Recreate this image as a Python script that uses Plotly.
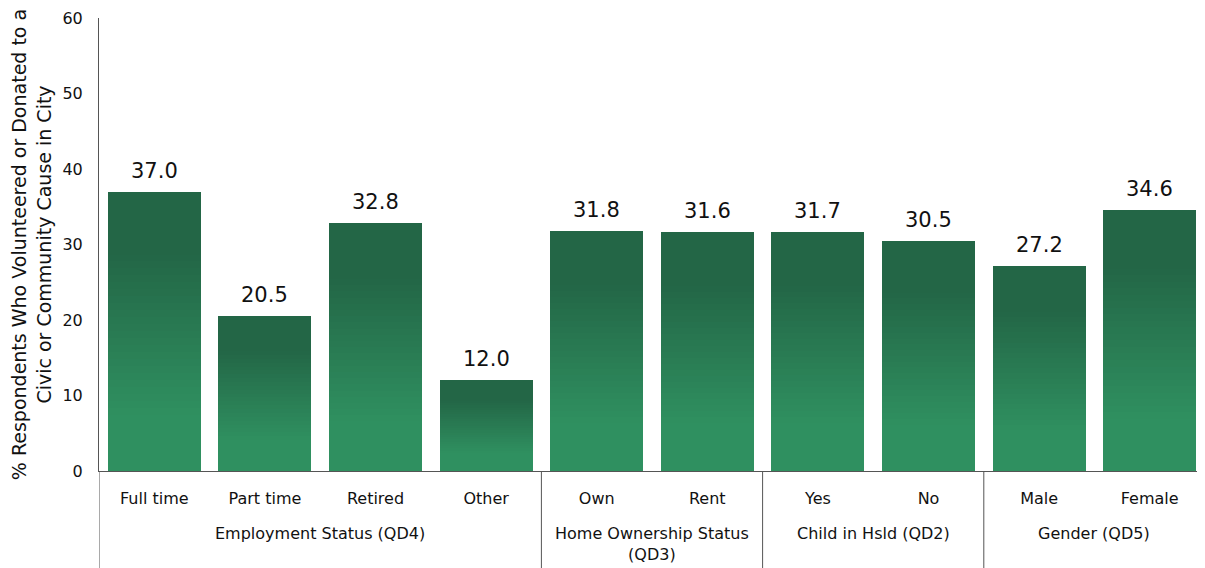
import plotly.graph_objects as go

categories = ["Full time", "Part time", "Retired", "Other", "Own", "Rent", "Yes", "No", "Male", "Female"]
values = [37.0, 20.5, 32.8, 12.0, 31.8, 31.6, 31.7, 30.5, 27.2, 34.6]
groups = ["Employment Status (QD4)", "Home Ownership Status<br>(QD3)", "Child in Hsld (QD2)", "Gender (QD5)"]
group_sizes = [4, 2, 2, 2]
y_title = "% Respondents Who Volunteered or Donated to a<br>Civic or Community Cause in City"

FONT = "DejaVu Sans"
dark = (35, 102, 70)
light = (47, 144, 96)
K = 40

fig = go.Figure()
for k in range(K):
    f = (k + 0.5) / K  # fraction of bar height from bottom
    t = max(0.0, min(1.0, (f - 0.2) / 0.58))
    col = tuple(round(light[i] + (dark[i] - light[i]) * t) for i in range(3))
    fig.add_trace(go.Bar(
        x=list(range(len(categories))), y=[v / K for v in values],
        marker=dict(color="rgb(%d,%d,%d)" % col, line=dict(width=0)),
        showlegend=False, hoverinfo="skip"))

for i, v in enumerate(values):
    fig.add_annotation(x=i, y=v, text="%.1f" % v, showarrow=False,
                       yanchor="bottom", yshift=7,
                       font=dict(family=FONT, size=21, color="#111111"))

# group labels and dividers
start = 0
bounds = [-0.5]
for g, n in zip(groups, group_sizes):
    center = start + (n - 1) / 2
    fig.add_annotation(x=center, y=0, yref="paper", text=g, showarrow=False,
                       yanchor="top", yshift=-51,
                       font=dict(family=FONT, size=16, color="#111111"))
    start += n
    bounds.append(start - 0.5)
for b in bounds:
    fig.add_shape(type="line", x0=b, x1=b, xref="x", y0=0, y1=-0.25, yref="paper",
                  line=dict(color="#555555", width=1))

fig.update_layout(
    width=1197, height=560,
    margin=dict(l=91, r=0, t=10, b=97, autoexpand=False),
    barmode="stack", bargap=0.16,
    plot_bgcolor="white", paper_bgcolor="white",
    font=dict(family=FONT, color="#111111"),
    xaxis=dict(range=[-0.5, 9.5], tickmode="array", tickvals=list(range(len(categories))),
               ticktext=categories, showline=True, linecolor="#555555", linewidth=1,
               ticks="", showgrid=False, tickfont=dict(size=16, color="#111111"),
               ticklabelstandoff=13, automargin=False),
    yaxis=dict(range=[0, 60], tickvals=[0, 10, 20, 30, 40, 50, 60], showgrid=False,
               showline=True, linecolor="#555555", linewidth=1, ticks="",
               tickfont=dict(size=16, color="#111111"), ticklabelstandoff=12,
               title=dict(text=y_title, font=dict(size=19, color="#111111"), standoff=7),
               zeroline=False, automargin=False),
)
fig.write_html("out.html")
